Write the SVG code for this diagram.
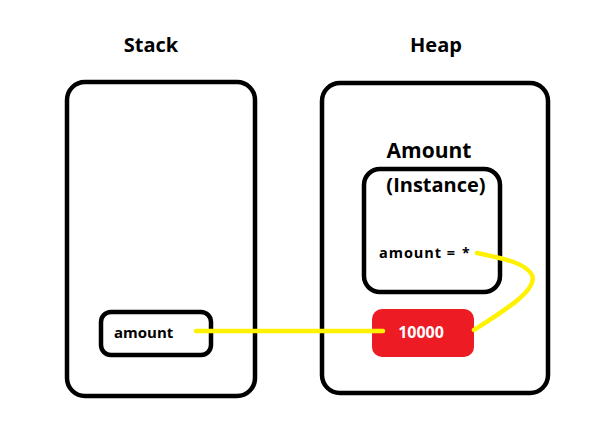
<svg xmlns="http://www.w3.org/2000/svg" width="608" height="439" viewBox="0 0 608 439">
<style>
.box{fill:none;stroke:#000;stroke-width:4.5}
.t{font-family:"Open Sans","Liberation Sans",sans-serif;font-weight:700;fill:#000}
.link{fill:none;stroke:#FFF200;stroke-width:4.5;stroke-linecap:round}
</style>
<rect width="608" height="439" fill="#fff"/>
<g id="stack">
<text class="t" x="151" y="52" font-size="20" text-anchor="middle">Stack</text>
<rect class="box" x="67" y="82" width="188" height="314" rx="18"/>
</g>
<g id="heap">
<text class="t" x="436" y="52" font-size="20" text-anchor="middle">Heap</text>
<rect class="box" x="322" y="83" width="226" height="310" rx="18"/>
</g>
<g id="stack-amount">
<rect class="box" x="101" y="312" width="110" height="43" rx="10"/>
<text class="t" x="114" y="338" font-size="15">amount</text>
</g>
<g id="instance">
<text class="t" x="429" y="158" font-size="21" text-anchor="middle">Amount</text>
<rect class="box" x="364" y="169" width="136" height="123" rx="16"/>
<text class="t" x="436" y="192" font-size="20" text-anchor="middle" font-weight="600">(Instance)</text>
<text class="t" x="379" y="258" font-size="14.5" textLength="76" lengthAdjust="spacing">amount =</text>
<text class="t" x="462" y="258" font-size="14">*</text>
</g>
<g id="value">
<rect x="372" y="309" width="102" height="48" rx="10" fill="#ED1C24"/>
<text x="421" y="338" font-size="16" text-anchor="middle" font-family="Open Sans,Liberation Sans,sans-serif" font-weight="700" fill="#fff">10000</text>
</g>
<g id="connectors">
<path class="link" d="M196 331 L383 331"/>
<path class="link" d="M477 253 C500 258 525 262 532 275 C538 290 505 310 474 330"/>
</g>
</svg>
